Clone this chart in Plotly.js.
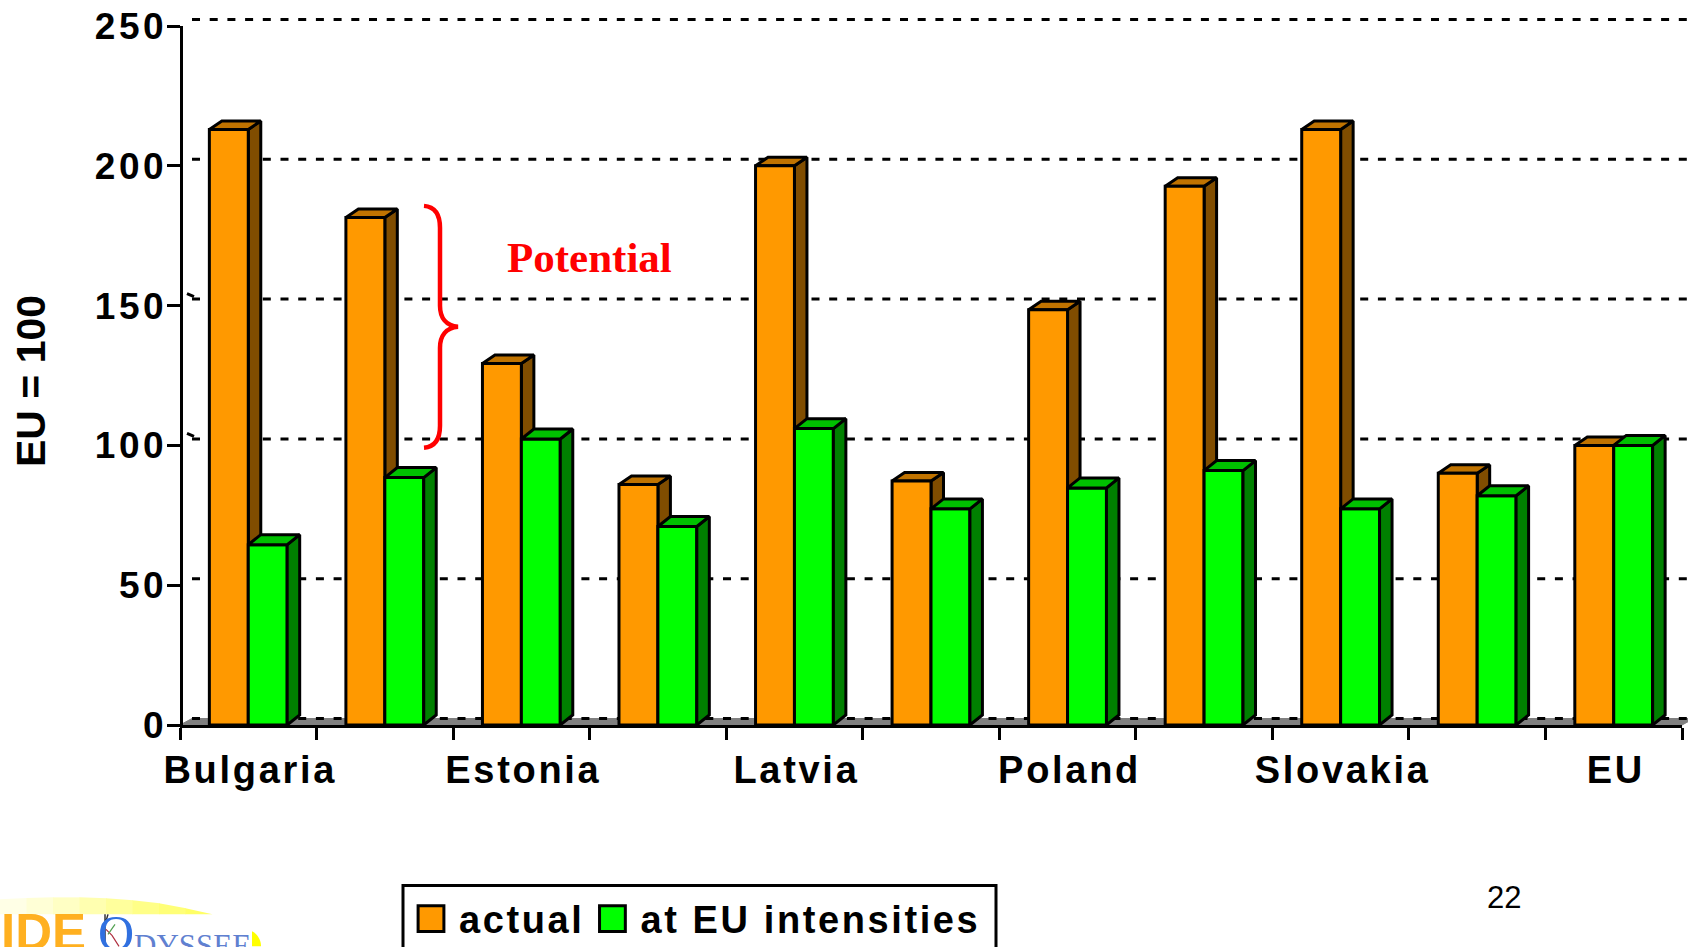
<!DOCTYPE html>
<html><head><meta charset="utf-8">
<script src="https://cdn.plot.ly/plotly-3.0.1.min.js"></script>
<style>
html,body{margin:0;padding:0;background:#fff;overflow:hidden}
#chart{width:1688px;height:947px}
.xtick text{letter-spacing:2.7px}
.ytick text{letter-spacing:3.6px}
.legendtext{letter-spacing:2.6px}
.ytitle{translate:0 5.5px}
.legend .legendpoints path{transform:translate(23px,0) scale(2.15);stroke-width:1.4px !important}
</style></head><body><div id="chart"></div>
<script>
// ---- data ----
const categories = ["Bulgaria","","Estonia","","Latvia","","Poland","","Slovakia","","EU"];
const actual = [213,181.5,129.3,86,200,87.3,148.5,192.7,213,90,100];
const atEU   = [64.5,88.5,102.3,71,106,77.3,84.8,91,77.3,82,100];
const yTicks = [0,50,100,150,200,250];
const wallMarks = [100,150];

// ---- style ----
const W=1688,H=947,L=180,T=26,R=1682,B=725.5;
const ORANGE='#FF9900',ORANGE_SIDE='#804D00',ORANGE_TOP='#C07300';
const GREEN='#00FF00',GREEN_SIDE='#008000',GREEN_TOP='#00C000';
const pxX=(R-L)/categories.length, pxY=(B-T)/250;
const dX=12.5/pxX, gridDX=12/pxX, gridDY=6.5/pxY;
const bargap=0.43, halfW=(1-bargap)/2;
const xs=categories.map((_,i)=>i);
const EDGE=3;

function poly(fn,vals){const X=[],Y=[];vals.forEach((v,i)=>{fn(i,v).forEach(q=>{X.push(q[0]);Y.push(q[1]);});X.push(null);Y.push(null);});return{X,Y};}
function sideOf(off,dY){return (i,v)=>{const r=i+off;return[[r,0],[r+dX,dY],[r+dX,v+dY],[r,v],[r,0]];};}
function topOf(off,dY){return (i,v)=>{const a=i+off,b=a+halfW;return[[a,v],[a+dX,v+dY],[b+dX,v+dY],[b,v],[a,v]];};}
function face(p,color,axes){return Object.assign({type:'scatter',mode:'lines',x:p.X,y:p.Y,fill:'toself',fillcolor:color,
  line:{color:'#000',width:EDGE},hoverinfo:'skip',showlegend:false,cliponaxis:false},axes);}

const base={xaxis:'x',yaxis:'y'}, over={xaxis:'x2',yaxis:'y2'};
const dYo=8.5/pxY, dYg=10/pxY;
const traces=[];
wallMarks.forEach(v=>traces.push(Object.assign({type:'scatter',mode:'lines',x:[-0.5+7/pxX,-0.5+14/pxX],y:[v+12/pxY,v+9/pxY],
  line:{color:'#000',width:3},hoverinfo:'skip',showlegend:false,cliponaxis:false},base)));
traces.push(face(poly(sideOf(0,dYo),actual),ORANGE_SIDE,base));
traces.push(face(poly(topOf(-halfW,dYo),actual),ORANGE_TOP,base));
traces.push(Object.assign({type:'bar',name:'actual',x:xs,y:actual,marker:{color:ORANGE,line:{color:'#000',width:EDGE}}},over));
traces.push(Object.assign({type:'bar',name:'at EU intensities',x:xs,y:atEU,marker:{color:GREEN,line:{color:'#000',width:EDGE}}},over));
traces.push(face(poly(sideOf(halfW,dYg),atEU),GREEN_SIDE,over));
traces.push(face(poly(topOf(0,dYg),atEU),GREEN_TOP,over));

// helpers: pixel position -> paper fraction, value -> paper fraction
const fx=x=>(x-L)/(R-L), fy=y=>(B-y)/(B-T);
const P=(x,y)=>fx(x).toFixed(5)+','+fy(y).toFixed(5);
const vx=x=>(x+0.5)/categories.length, vy=v=>v/250;
const paper={xref:'paper',yref:'paper'};

const shapes=[];
// floor
shapes.push(Object.assign({type:'path',layer:'below',fillcolor:'#808080',line:{color:'#808080',width:1},
  path:`M${vx(-0.5)},${vy(0)} L${vx(-0.5+gridDX)},${vy(gridDY)} L${vx(10.5+gridDX)},${vy(gridDY)} L${vx(10.5)},${vy(0)} Z`},paper));
// back-wall gridlines
yTicks.forEach(v=>shapes.push(Object.assign({type:'line',layer:'below',x0:vx(-0.5+gridDX),x1:fx(1700),y0:vy(v+gridDY),y1:vy(v+gridDY),
  line:{color:'#000',width:3,dash:'8px,9.7px'}},paper)));
// brace
shapes.push(Object.assign({type:'path',line:{color:'#FF0000',width:4.5},
  path:`M${P(424,206)} C${P(436,207)} ${P(440,216)} ${P(440,228)} L${P(440,306)} C${P(440,318)} ${P(446,326)} ${P(458,327)} C${P(446,328)} ${P(440,336)} ${P(440,348)} L${P(440,426)} C${P(440,438)} ${P(436,447)} ${P(424,448)}`},paper));
// legend box
shapes.push(Object.assign({type:'rect',x0:fx(403),x1:fx(996),y0:fy(960),y1:fy(886),line:{color:'#000',width:3},fillcolor:'#fff',layer:'below'},paper));
// logo: pale-to-yellow arc in slices
const arcTop=[900,898.5,898,898,899,901,904,909,915];
const arcCol=['#FFFFE6','#FFFFD6','#FFFFC4','#FFFFB0','#FFFF9C','#FFFF88','#FFFF78','#FFFF66'];
arcCol.forEach((c,i)=>{const x0=i*26.5,x1=x0+27;
  shapes.push(Object.assign({type:'path',layer:'below',line:{width:0},fillcolor:c,
    path:`M${P(x0,915)} L${P(x0,arcTop[i])} L${P(x1,arcTop[i+1])} L${P(x1,915)} Z`},paper));});
shapes.push(Object.assign({type:'path',line:{width:0},fillcolor:'#FFFF00',layer:'below',
  path:`M${P(252,932)} C${P(258,935)} ${P(261,941)} ${P(261,947)} L${P(252,947)} Z`},paper));
shapes.push(Object.assign({type:'path',line:{color:'#333',width:1.5},path:`M${P(105,915)} L${P(105,947)} M${P(105,925)} L${P(108,915)}`},paper));
shapes.push(Object.assign({type:'path',line:{color:'#B03040',width:1.2},path:`M${P(106,930)} L${P(112,936)} L${P(119,947)}`},paper));
shapes.push(Object.assign({type:'path',line:{color:'#50A050',width:1.2},path:`M${P(108,935)} L${P(115,925)}`},paper));

const ann=(text,x,y,size,font)=>({text,xref:'paper',yref:'paper',x:fx(x),y:fy(y),showarrow:false,xanchor:'left',yanchor:'middle',
  font:Object.assign({family:'"Liberation Sans",Arial,sans-serif',size,color:'#000'},font||{})});
const annotations=[
 ann('<b>Potential</b>',505,258,43,{family:'"Liberation Serif",serif',color:'#FF0000'}),
 ann('22',1485,898,31),
 ann('<b>IDE</b>',-1,933,51,{color:'#FFB020'}),
 ann('O',96,934,50,{family:'"Liberation Serif",serif',color:'#3070E0'}),
 ann('DYSSEE',132,946,31,{family:'"Liberation Serif",serif',color:'#6080D0'})
];

const bold={family:'"Liberation Sans",Arial,sans-serif',color:'#000',weight:700};
const axisX={type:'linear',range:[-0.5,10.5],showgrid:false,zeroline:false,showline:true,linecolor:'#000',linewidth:3,
  tickvals:xs,ticktext:categories,ticks:'',tickangle:0,ticklabelstandoff:9,ticklabelshift:2,
  tickfont:Object.assign({size:38},bold),
  minor:{tick0:0.5,dtick:1,ticks:'outside',ticklen:12,tickwidth:3,tickcolor:'#000',showgrid:false}};
const axisY={range:[0,250],tickvals:yTicks,showgrid:false,zeroline:false,showline:true,linecolor:'#000',linewidth:3,
  anchor:'free',position:0.7/(R-L),
  ticks:'outside',ticklen:13,tickwidth:3,tickcolor:'#000',ticklabelstandoff:-8,
  tickfont:Object.assign({size:37},bold),
  title:{text:'EU = 100',standoff:35,font:Object.assign({size:41},bold)}};

const layout={width:W,height:H,margin:{l:L,r:W-R,t:T,b:H-B,pad:0,autoexpand:false},paper_bgcolor:'#fff',plot_bgcolor:'rgba(0,0,0,0)',
 barmode:'group',bargap:bargap,bargroupgap:0,xaxis:axisX,yaxis:axisY,
 xaxis2:{range:[-0.5,10.5],overlaying:'x',visible:false,anchor:'y2'},
 yaxis2:{range:[0,250],overlaying:'y',visible:false,anchor:'x2'},
 showlegend:true,
 legend:{orientation:'h',xref:'paper',yref:'paper',x:fx(408),y:fy(888),xanchor:'left',yanchor:'top',bgcolor:'rgba(0,0,0,0)',borderwidth:0,itemwidth:41,
   font:Object.assign({size:38},bold),itemclick:false,itemdoubleclick:false},
 shapes,annotations};
Plotly.newPlot('chart',traces,layout,{displayModeBar:false,staticPlot:true});
</script></body></html>
